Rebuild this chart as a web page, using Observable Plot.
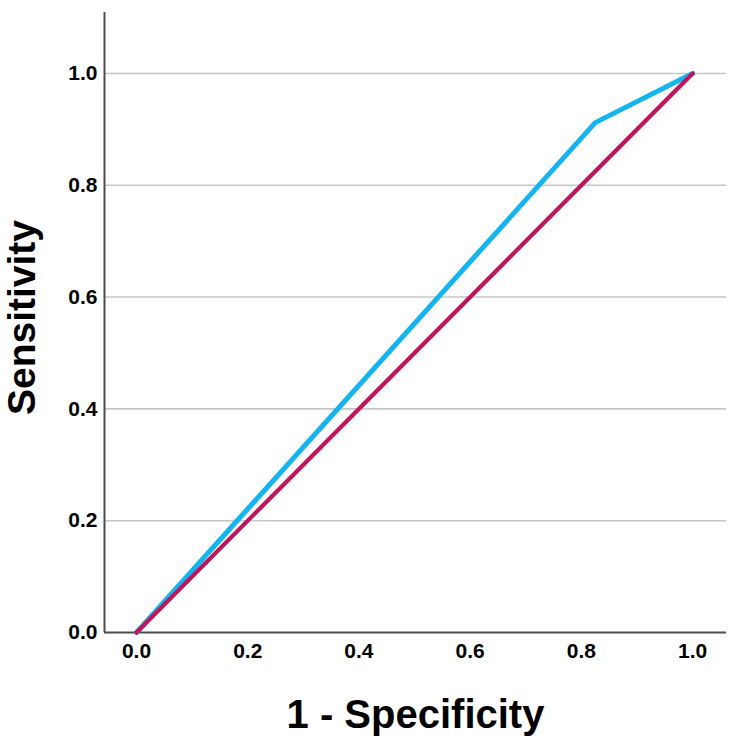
<!DOCTYPE html>
<html>
<head>
<meta charset="utf-8">
<script src="https://cdn.jsdelivr.net/npm/d3@7"></script>
<script src="https://cdn.jsdelivr.net/npm/@observablehq/plot@0.6"></script>
<style>
  html, body { margin: 0; padding: 0; background: #fff; }
  #chart svg { font-family: "Liberation Sans", Arial, sans-serif; display: block; }
</style>
</head>
<body>
<div id="chart"></div>
<script>
// ROC curve: false positive rate (1 - specificity) vs true positive rate
const rocFpr = [0, 0.825, 1];
const rocTpr = [0, 0.912, 1];

// chance (reference) diagonal
const refX = [0, 1];
const refY = [0, 1];

const tickValues = [0, 0.2, 0.4, 0.6, 0.8, 1.0];
const gridValues = [0.2, 0.4, 0.6, 0.8, 1.0];

const xTitle = "1 - Specificity";
const yTitle = "Sensitivity";

const xDomain = [-0.0576, 1.061];
const yDomain = [0, 1.109];

const roc = rocFpr.map((x, i) => ({x, y: rocTpr[i]}));
const ref = refX.map((x, i) => ({x, y: refY[i]}));

const chart = Plot.plot({
  width: 737,
  height: 742,
  marginLeft: 104,
  marginRight: 11,
  marginTop: 12,
  marginBottom: 110,
  style: {fontFamily: "Liberation Sans, Arial, sans-serif", fontSize: "21px", background: "#fff"},
  x: {domain: xDomain},
  y: {domain: yDomain},
  marks: [
    Plot.gridY(gridValues, {stroke: "#c6c6c6", strokeOpacity: 1, strokeWidth: 1.6}),
    Plot.axisX(tickValues, {
      tickSize: 0, tickPadding: 11, fontWeight: "bold",
      tickFormat: d3.format(".1f"), label: null, fill: "#000"
    }),
    Plot.axisY(tickValues, {
      tickSize: 0, tickPadding: 7, fontWeight: "bold",
      tickFormat: d3.format(".1f"), label: null, fill: "#000"
    }),
    Plot.ruleY([yDomain[0]], {stroke: "#4d4d4d", strokeWidth: 2}),
    Plot.ruleX([xDomain[0]], {stroke: "#4d4d4d", strokeWidth: 2}),
    Plot.line(roc, {x: "x", y: "y", stroke: "#14b4f0", strokeWidth: 5, strokeLinejoin: "miter"}),
    Plot.line(ref, {x: "x", y: "y", stroke: "#c2145a", strokeWidth: 4.2}),
    Plot.text([xTitle], {
      frameAnchor: "bottom", lineAnchor: "bottom", dy: 95,
      fontSize: 40, fontWeight: "bold", fill: "#000"
    }),
    Plot.text([yTitle], {
      frameAnchor: "left", textAnchor: "middle", rotate: -90, lineAnchor: "middle",
      dx: -82, dy: -5,
      fontSize: 39, fontWeight: "bold", fill: "#000"
    })
  ]
});

document.getElementById("chart").appendChild(chart);
</script>
</body>
</html>
